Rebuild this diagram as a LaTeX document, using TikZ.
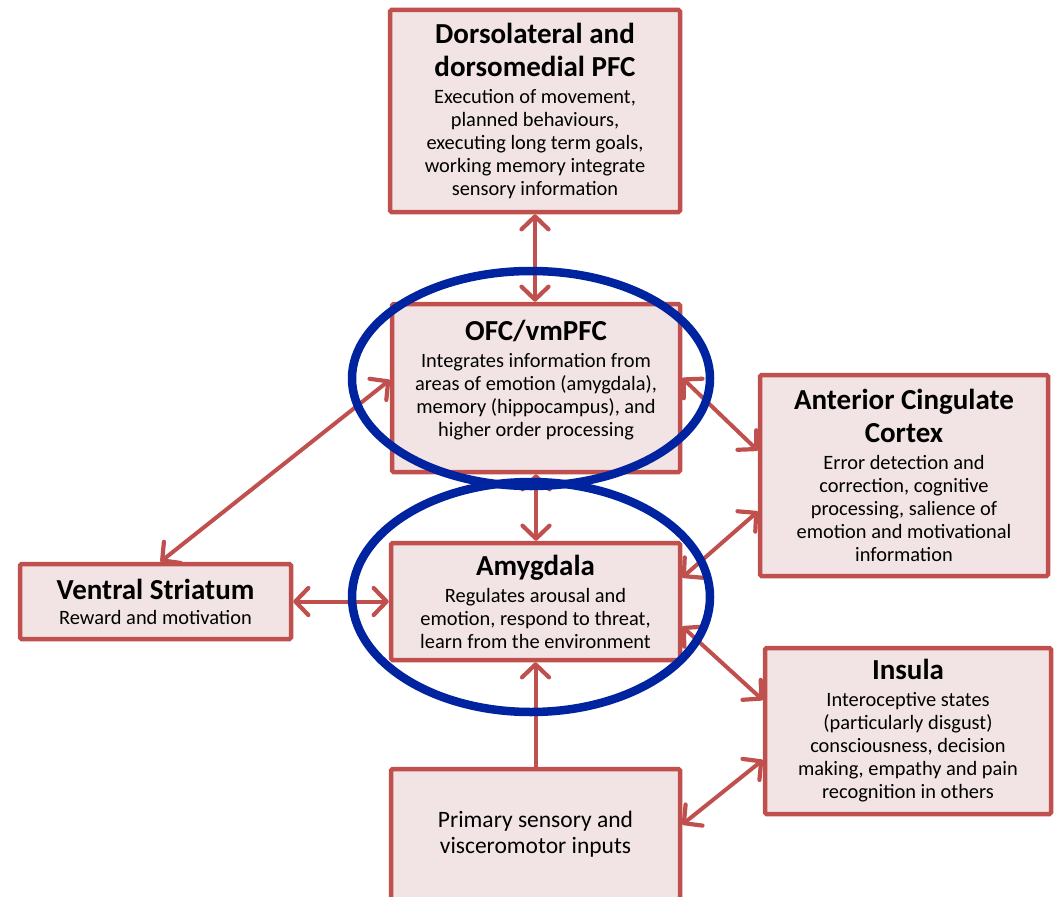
\documentclass[tikz,border=0pt]{standalone}
\usepackage{fontspec}
\setmainfont{Carlito}
\usetikzlibrary{arrows.meta}
\definecolor{boxred}{RGB}{192,80,77}
\definecolor{boxfill}{RGB}{242,228,228}
\definecolor{ringblue}{RGB}{0,35,160}
\newcommand{\ttl}{\fontsize{29}{33}\bfseries}
\tikzset{
  region/.style={draw=boxred, fill=boxfill, line width=4.5pt, rounded corners=1.5pt, align=center, inner sep=0pt,
    font={\fontsize{20.4}{23}\selectfont\lineskiplimit=-100pt}},
  conn/.style={draw=boxred, line width=4pt, line cap=round},
  >={Straight Barb[length=13pt,width=27pt,line width=4.2pt,round]},
  ring/.style={draw=ringblue, line width=8.5pt}
}
\begin{document}
\begin{tikzpicture}[x=1pt,y=-1pt]
\useasboundingbox (0,0) rectangle (1056,896);
\node[region, minimum width=290pt, minimum height=202pt] (dl) at (535,111)
  {{\ttl Dorsolateral and}\\[10pt]{\ttl dorsomedial PFC}\\[4pt]Execution of movement,\\planned behaviours,\\executing long term goals,\\working memory integrate\\sensory information};
\node[region, minimum width=288pt, minimum height=168pt] (ofc) at (536,388) {};
\node[font={\fontsize{20.4}{23}\selectfont\lineskiplimit=-100pt}, align=center, inner sep=0pt] (ofct) at (536,380)
  {{\ttl OFC/vmPFC}\\[4pt]Integrates information from\\areas of emotion (amygdala),\\memory (hippocampus), and\\higher order processing};
\node[region, minimum width=288pt, minimum height=201pt] (acc) at (904,475.5)
  {{\ttl Anterior Cingulate}\\[10pt]{\ttl Cortex}\\[4pt]Error detection and\\correction, cognitive\\processing, salience of\\emotion and motivational\\information};
\node[region, minimum width=271pt, minimum height=75pt] (vs) at (155.5,601.5)
  {{\ttl Ventral Striatum}\\[2pt]Reward and motivation};
\node[region, minimum width=289pt, minimum height=117pt] (amy) at (535.5,601.5)
  {{\ttl Amygdala}\\[4pt]Regulates arousal and\\emotion, respond to threat,\\learn from the environment};
\node[region, minimum width=286pt, minimum height=166pt] (ins) at (908,731)
  {{\ttl Insula}\\[4pt]Interoceptive states\\(particularly disgust)\\consciousness, decision\\making, empathy and pain\\recognition in others};
\node[region, minimum width=289pt, minimum height=131pt, font={\fontsize{23.5}{26}\selectfont\lineskiplimit=-100pt}] (pri) at (535.5,834.5)
  {Primary sensory and\\visceromotor inputs};

\draw[conn,<->] (dl.south) -- (dl.south |- ofc.north);
\draw[conn,<->] (ofc.south) -- (ofc.south |- amy.north);
\draw[conn,<->] ([xshift=5pt]vs.north) -- ([yshift=8pt]ofc.west);
\draw[conn,<->] (vs.east) -- (amy.west);
\draw[conn,<->] ([yshift=10pt]ofc.east) -- ([yshift=25pt]acc.west);
\draw[conn,<->] ([yshift=24pt]amy.east) -- ([yshift=-36pt]acc.west);
\draw[conn,<->] ([yshift=-25pt]amy.east) -- ([yshift=31pt]ins.west);
\draw[conn,<->] ([yshift=-29pt]ins.west) -- ([yshift=10pt]pri.east);
\draw[conn,->] (pri.north) -- (pri.north |- amy.south);

\draw[ring] (531,378.5) ellipse [x radius=179pt, y radius=107.5pt];
\draw[ring] (531,597) ellipse [x radius=179pt, y radius=115pt];
\end{tikzpicture}
\end{document}
